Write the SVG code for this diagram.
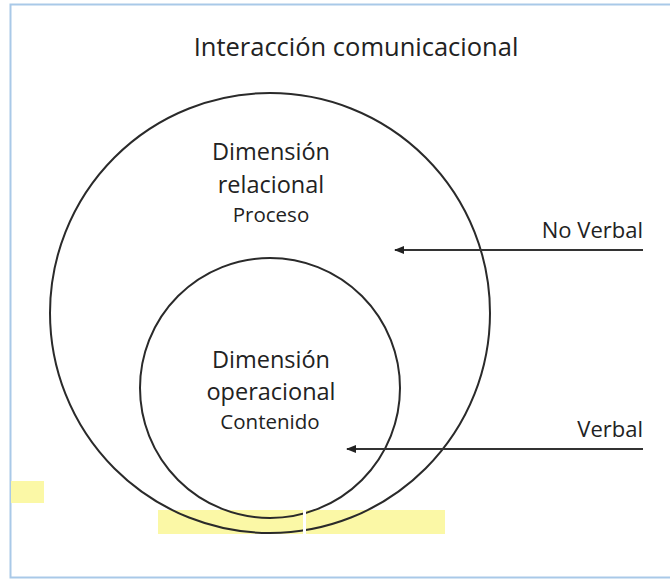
<svg xmlns="http://www.w3.org/2000/svg" width="670" height="581" viewBox="0 0 670 581">
<defs>
<style>
.t{font-family:"Open Sans","Noto Sans","Liberation Sans",sans-serif;fill:#222;text-anchor:middle}
.big{font-size:23.5px}
.sm{font-size:20.5px}
.lbl{font-size:22px;text-anchor:end}
.circ{fill:none;stroke:#2a2a2a;stroke-width:2}
.arr{stroke:#333;stroke-width:2;fill:none;marker-end:url(#ah)}
.hl{fill:#fbf8a6}
</style>
<marker id="ah" viewBox="0 0 10 8" refX="9" refY="4" markerWidth="10" markerHeight="8" markerUnits="userSpaceOnUse" orient="auto">
<path d="M0,0 L10,4 L0,8 Z" fill="#222"/>
</marker>
</defs>
<rect width="670" height="581" fill="#fff"/>
<rect x="10.5" y="4.5" width="670" height="573" fill="none" stroke="#a9c9e8" stroke-width="2"/>
<g id="highlights">
<rect class="hl" x="11" y="481" width="33" height="22"/>
<rect class="hl" x="158" y="510" width="145" height="24"/>
<rect class="hl" x="306" y="510" width="139" height="24"/>
</g>
<text id="title" class="t" x="356" y="56" style="font-size:25.5px">Interacción comunicacional</text>
<g id="outer">
<circle class="circ" cx="270" cy="313" r="220"/>
<text class="t big" x="271" y="160">Dimensión</text>
<text class="t big" x="271" y="193">relacional</text>
<text class="t sm" x="271" y="222">Proceso</text>
</g>
<g id="inner">
<circle class="circ" cx="270" cy="388" r="130"/>
<text class="t big" x="271" y="368">Dimensión</text>
<text class="t big" x="271" y="400">operacional</text>
<text class="t sm" x="270" y="429">Contenido</text>
</g>
<rect x="303" y="509" width="3" height="27" fill="#fff"/>
<g id="connectors">
<line class="arr" x1="643" y1="250" x2="395" y2="250"/>
<line class="arr" x1="643" y1="449" x2="347" y2="449"/>
</g>
<g id="labels">
<text class="t lbl" x="643" y="238">No Verbal</text>
<text class="t lbl" x="643" y="437">Verbal</text>
</g>
</svg>
